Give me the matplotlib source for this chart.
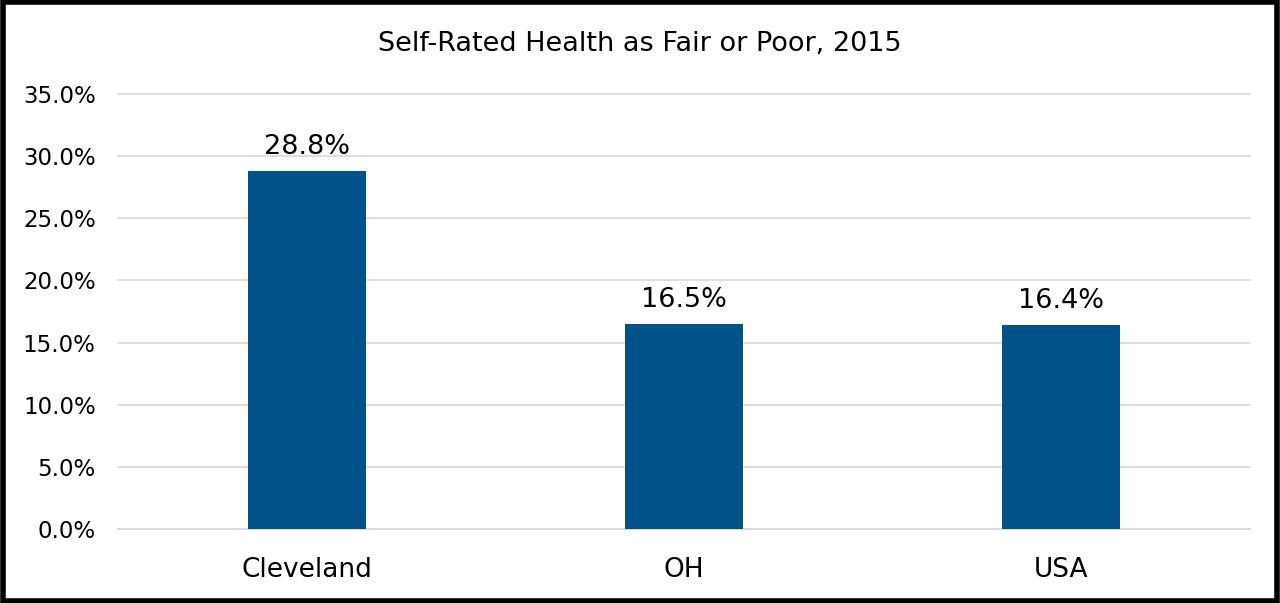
import matplotlib.pyplot as plt
from matplotlib.patches import Rectangle
from matplotlib.ticker import FuncFormatter

# data
places = ["Cleveland", "OH", "USA"]
fair_poor = [28.8, 16.5, 16.4]
yticks = [0, 5, 10, 15, 20, 25, 30, 35]

bar_color = "#02528A"

fig = plt.figure(figsize=(12.8, 6.03), dpi=100)
ax = fig.add_axes([118/1280, 74/603, 1132/1280, 435/603])

x = range(len(places))
bars = ax.bar(x, fair_poor, width=0.313, color=bar_color, zorder=3)
for b, v in zip(bars, fair_poor):
    ax.text(b.get_x() + b.get_width()/2, v + 0.9, f"{v:.1f}%",
            ha="center", va="bottom", fontsize=19.5, color="black")

ax.set_xlim(-0.5, 2.5)
ax.set_ylim(0, 35)
ax.set_yticks(yticks)
ax.yaxis.set_major_formatter(FuncFormatter(lambda v, p: f"{v:.1f}%"))
ax.set_xticks(list(x))
ax.set_xticklabels(places, fontsize=19)
ax.tick_params(axis="y", labelsize=16.5, length=0, pad=16)
ax.tick_params(axis="x", length=0, pad=20)
ax.grid(axis="y", color="#D9D9D9", linewidth=1.2, zorder=0)
for ln in ax.get_ygridlines():
    ln.set_clip_on(False)
for s in ["top", "right", "left"]:
    ax.spines[s].set_visible(False)
ax.spines["bottom"].set_color("#D9D9D9")
ax.spines["bottom"].set_linewidth(1.2)

fig.text(0.5, 1 - 44/603, "Self-Rated Health as Fair or Poor, 2015",
         ha="center", va="center", fontsize=19.5)

# outer border
fig.patches.append(Rectangle((0.002, 0.004), 0.996, 0.992, transform=fig.transFigure,
                             fill=False, edgecolor="black", linewidth=4))

fig.savefig("out.png", dpi=100)
